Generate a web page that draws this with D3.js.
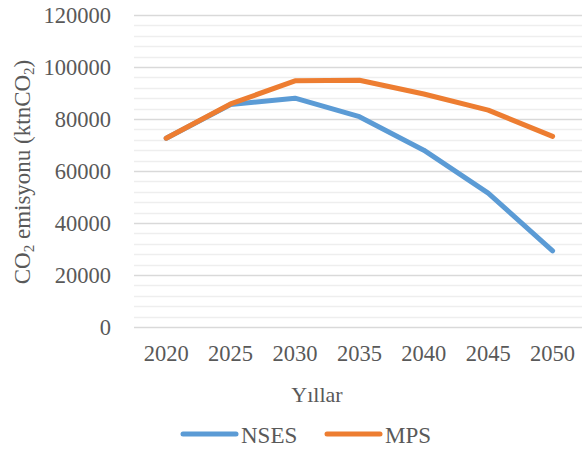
<!DOCTYPE html>
<html>
<head>
<meta charset="utf-8">
<script src="https://cdn.jsdelivr.net/npm/d3@7"></script>
<style>
  body { margin: 0; background: #fff; }
  text { font-family: "Liberation Serif", "Times New Roman", serif; fill: #595959; }
</style>
</head>
<body>
<svg id="chart" width="582" height="452"></svg>
<script>
// chart values
const years = ['2020', '2025', '2030', '2035', '2040', '2045', '2050']
const nses = [72600, 85600, 88000, 80900, 68000, 51500, 29300]
const mps = [72600, 85800, 94700, 94900, 89600, 83400, 73300]
const yTicks = [0, 20000, 40000, 60000, 80000, 100000, 120000]
const seriesNames = ['NSES', 'MPS']
const colors = ['#5B9BD5', '#ED7D31']

const margin = { left: 134, right: 0, top: 15, bottom: 125 }
const width = 582
const height = 452

const svg = d3.select('#chart')

const x = d3.scaleBand()
  .domain(years)
  .range([margin.left, margin.left + 7 * 64.4])

const y = d3.scaleLinear()
  .domain([0, 120000])
  .range([height - margin.bottom, margin.top])

// minor gridlines every 4000
svg.append('g')
  .selectAll('line')
  .data(d3.range(0, 120001, 4000).filter(d => d % 20000 !== 0))
  .enter()
  .append('line')
  .attr('x1', margin.left)
  .attr('x2', width)
  .attr('y1', d => Math.round(y(d)) + 0.5)
  .attr('y2', d => Math.round(y(d)) + 0.5)
  .attr('stroke', '#eeeeee')
  .attr('stroke-width', 1.5)

// major gridlines
svg.append('g')
  .selectAll('line')
  .data(yTicks)
  .enter()
  .append('line')
  .attr('x1', margin.left)
  .attr('x2', width)
  .attr('y1', d => Math.round(y(d)) + 0.5)
  .attr('y2', d => Math.round(y(d)) + 0.5)
  .attr('stroke', '#d9d9d9')
  .attr('stroke-width', 1.5)

// y axis labels
const yAxis = svg.append('g')
  .attr('transform', `translate(${margin.left - 23},0)`)
  .call(d3.axisLeft(y).tickValues(yTicks).tickSize(0).tickPadding(0).tickFormat(d3.format('d')))
yAxis.select('.domain').remove()
yAxis.selectAll('text')
  .attr('font-size', '22.5px')
  .attr('fill', '#595959')
  .attr('font-family', '"Liberation Serif", serif')

// x axis labels
const xAxis = svg.append('g')
  .attr('transform', `translate(0,${y(0)})`)
  .call(d3.axisBottom(x).tickSize(0).tickPadding(18))
xAxis.select('.domain').remove()
xAxis.selectAll('text')
  .attr('font-size', '22.5px')
  .attr('fill', '#595959')
  .attr('font-family', '"Liberation Serif", serif')

// lines
const line = d3.line()
  .x((d, i) => x(years[i]) + x.bandwidth() / 2)
  .y(d => y(d))

;[nses, mps].forEach((s, k) => {
  svg.append('path')
    .datum(s)
    .attr('d', line)
    .attr('fill', 'none')
    .attr('stroke', colors[k])
    .attr('stroke-width', 5)
    .attr('stroke-linecap', 'round')
    .attr('stroke-linejoin', 'round')
})

// axis titles
svg.append('text')
  .attr('x', 317)
  .attr('y', 402)
  .attr('text-anchor', 'middle')
  .attr('font-size', '22px')
  .text('Yıllar')

const yt = svg.append('text')
  .attr('transform', 'translate(30,172) rotate(-90)')
  .attr('text-anchor', 'middle')
  .attr('font-size', '23px')
yt.append('tspan').text('CO')
yt.append('tspan').attr('font-size', '15px').attr('baseline-shift', '-25%').text('2')
yt.append('tspan').text(' emisyonu (ktnCO')
yt.append('tspan').attr('font-size', '15px').attr('baseline-shift', '-25%').text('2')
yt.append('tspan').text(')')

// legend
const legendX = [183, 327]
const legend = svg.append('g')
  .selectAll('g')
  .data(seriesNames)
  .enter()
  .append('g')
  .attr('transform', (d, i) => `translate(${legendX[i]},434)`)
legend.append('line')
  .attr('x1', 0)
  .attr('x2', 53)
  .attr('stroke', (d, i) => colors[i])
  .attr('stroke-width', 5)
  .attr('stroke-linecap', 'round')
legend.append('text')
  .attr('x', 58)
  .attr('y', 9)
  .attr('font-size', '23px')
  .text(d => d)
</script>
</body>
</html>
